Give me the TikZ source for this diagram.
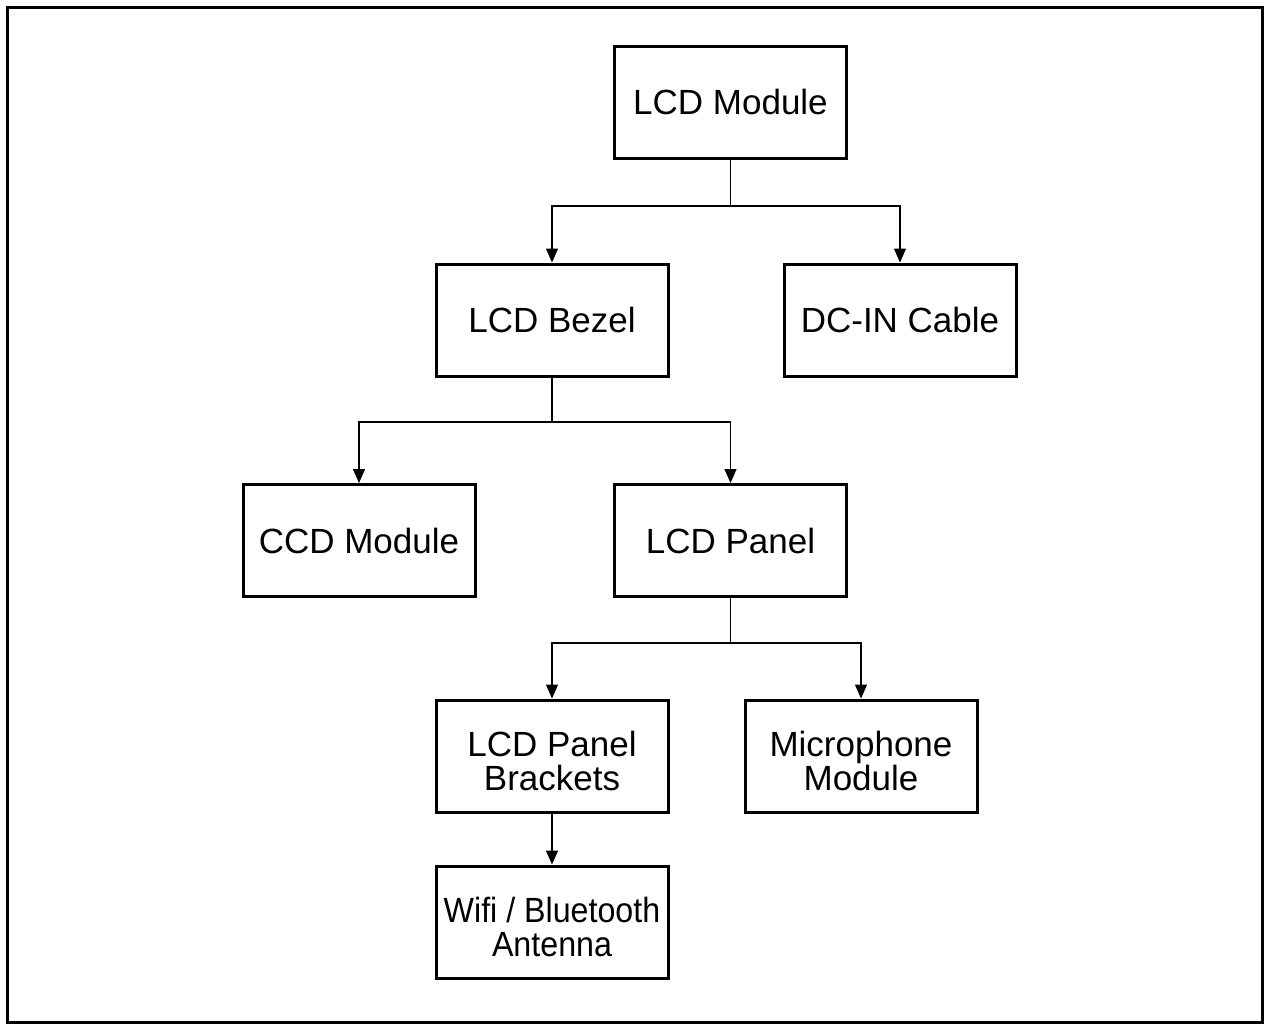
\documentclass[tikz,border=0pt]{standalone}
\usepackage{fontspec}
\setmainfont{Liberation Sans}
\newfontfamily\narrowfont[FakeStretch=0.92]{Liberation Sans}
\usetikzlibrary{arrows.meta}
\newcommand{\lowstrut}{\rule{0pt}{36pt}}
\begin{document}
\begin{tikzpicture}[x=1pt,y=-1pt,
  box/.style={draw,line width=3pt,minimum width=232pt,minimum height=112pt,inner sep=0pt,align=center,font=\fontsize{35}{34}\selectfont},
  conn/.style={line width=1.3pt},
  arr/.style={conn,-{Triangle[length=14pt,width=12pt]}}]
\useasboundingbox (0,0) rectangle (1270,1026);
\draw[line width=3pt] (7.5,7.5) rectangle (1262.5,1022.5);
\node[box] (lcdm) at (730.5,102) {LCD Module};
\node[box] (bezel) at (552,320) {LCD Bezel};
\node[box] (dcin) at (900,320) {DC-IN Cable};
\node[box] (ccd) at (359,540.5) {CCD Module};
\node[box] (panel) at (730.5,540.5) {LCD Panel};
\node[box] (brk) at (552,756) {\lowstrut LCD Panel\\Brackets};
\node[box] (mic) at (861,756) {\lowstrut Microphone\\Module};
\node[box,font=\fontsize{35}{34}\narrowfont] (wifi) at (552,922) {\lowstrut Wifi / Bluetooth\\Antenna};
\coordinate (j1) at (730.5,206);
\coordinate (j2) at (552,422);
\coordinate (j3) at (730.5,643);
\draw[conn] (lcdm.south) -- (j1);
\draw[arr] (j1) -| (bezel.north);
\draw[arr] (j1) -| (dcin.north);
\draw[conn] (bezel.south) -- (j2);
\draw[arr] (j2) -| (ccd.north);
\draw[arr] (j2) -| (panel.north);
\draw[conn] (panel.south) -- (j3);
\draw[arr] (j3) -| (brk.north);
\draw[arr] (j3) -| (mic.north);
\draw[arr] (brk.south) -- (wifi.north);
\end{tikzpicture}
\end{document}
